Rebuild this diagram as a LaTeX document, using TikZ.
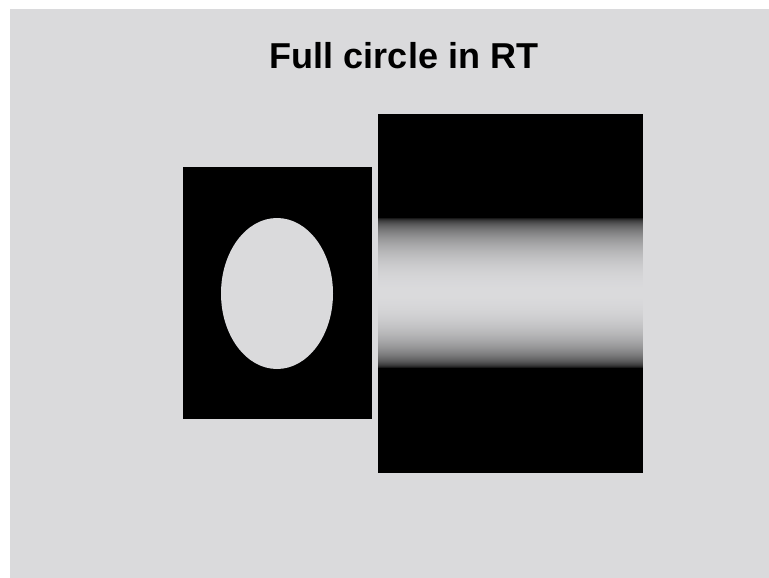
\documentclass[tikz,border=0pt]{standalone}
\usepackage{fontspec}
\setmainfont{Liberation Sans}
\usepackage{xcolor}
\definecolor{slidebg}{RGB}{218,218,220}
\definecolor{framewhite}{RGB}{255,255,255}
\definecolor{sinoblack}{RGB}{0,0,0}

\begin{document}
\begin{tikzpicture}[x=1pt, y=-1pt]

% Page & slide background
\useasboundingbox (0,0) rectangle (769,578);
\fill[framewhite] (0,0) rectangle (769,578);
\fill[slidebg] (10,9) rectangle (769,578);

% Title
\node[anchor=base, text=black, font=\fontsize{36}{40}\selectfont\bfseries, inner sep=0pt] (title) at (404,69) {Full circle in RT};

% Left panel: phantom with full circle
\fill[sinoblack] (183,167) rectangle (372,419);
\fill[slidebg] (277,293.5) ellipse (56 and 75.5);

% Right panel: radon transform (sinogram)
\fill[sinoblack] (378,114) rectangle (643,473);
% Band = projection of the disc, 2*sqrt(r^2-s^2) profile
\foreach \i in {0,...,149} {
    \pgfmathsetmacro{\s}{((\i+0.5)-75)/75}
    \pgfmathsetmacro{\v}{100*sqrt(1-\s*\s)}
    \fill[slidebg!\v!sinoblack] (378,218+\i) rectangle (643,219.4+\i);
}

\end{tikzpicture}
\end{document}
